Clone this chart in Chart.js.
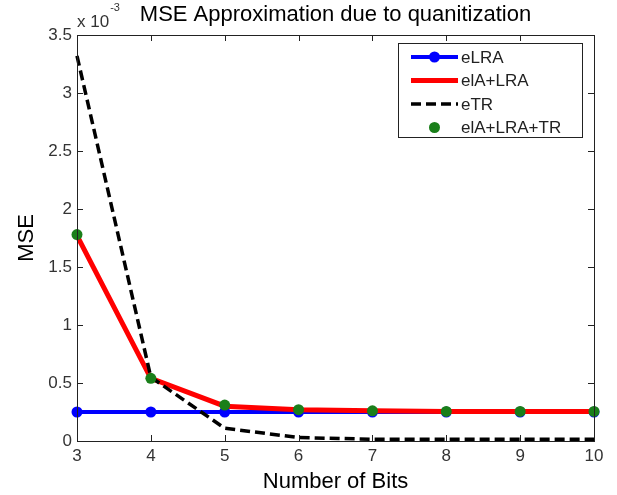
<!DOCTYPE html>
<html>
<head>
<meta charset="utf-8">
<title>MSE Approximation due to quanitization</title>
<script src="https://cdn.jsdelivr.net/npm/chart.js@4.4.1/dist/chart.umd.min.js"></script>
<style>
  html, body { margin: 0; padding: 0; background: #fff; }
  canvas { display: block; }
</style>
</head>
<body>
<canvas id="mseChart" width="617" height="495"></canvas>
<script>
// x: number of bits, y: MSE in units of 1e-3
const bits = [3, 4, 5, 6, 7, 8, 9, 10];
const eLRA = [0.25, 0.25, 0.25, 0.25, 0.25, 0.25, 0.25, 0.25];
const eIALRA = [1.77, 0.54, 0.30, 0.27, 0.26, 0.255, 0.255, 0.255];
const eTR = [3.32, 0.55, 0.11, 0.03, 0.015, 0.015, 0.015, 0.015];
const eIALRATR = [1.78, 0.54, 0.31, 0.27, 0.26, 0.255, 0.255, 0.255];
const xTicks = [3, 4, 5, 6, 7, 8, 9, 10];
const yTicks = [0, 0.5, 1, 1.5, 2, 2.5, 3, 3.5];

const FONT = "'Liberation Sans', Arial, sans-serif";

function pts(arr){ return bits.map((b, i) => ({ x: b, y: arr[i] })); }

// box, inward ticks (matlab style)
const framePlugin = {
  id: "frame",
  afterDatasetsDraw(chart){
    const { ctx, chartArea: a, scales: { x, y } } = chart;
    ctx.save();
    ctx.strokeStyle = "#222";
    ctx.lineWidth = 1;
    ctx.strokeRect(a.left + 0.5, a.top + 0.5, a.right - a.left, a.bottom - a.top);
    ctx.beginPath();
    xTicks.forEach(v => {
      const px = Math.round(x.getPixelForValue(v)) + 0.5;
      ctx.moveTo(px, a.bottom); ctx.lineTo(px, a.bottom - 6);
      ctx.moveTo(px, a.top); ctx.lineTo(px, a.top + 6);
    });
    yTicks.forEach(v => {
      const py = Math.round(y.getPixelForValue(v)) + 0.5;
      ctx.moveTo(a.left, py); ctx.lineTo(a.left + 6, py);
      ctx.moveTo(a.right, py); ctx.lineTo(a.right - 6, py);
    });
    ctx.stroke();
    ctx.restore();
  }
};

// title + exponent label
const textPlugin = {
  id: "texts",
  afterDraw(chart){
    const { ctx, chartArea: a } = chart;
    ctx.save();
    ctx.fillStyle = "#000";
    ctx.textBaseline = "alphabetic";
    ctx.textAlign = "center";
    ctx.font = "22px " + FONT;
    ctx.fillText("MSE Approximation due to quanitization", (a.left + a.right) / 2, 21);

    ctx.fillStyle = "#333";
    ctx.textAlign = "left";
    ctx.font = "17px " + FONT;
    ctx.fillText("x 10", a.left, 27);
    const w = ctx.measureText("x 10").width;
    ctx.font = "11px " + FONT;
    ctx.fillText("-3", a.left + w + 1, 11);
    ctx.restore();
  }
};

// legend box inside the axes
const legendPlugin = {
  id: "boxLegend",
  afterDraw(chart){
    const { ctx, chartArea: a } = chart;
    const bw = 184, bh = 94;
    const bx = a.right - 12 - bw, by = a.top + 8;
    ctx.save();
    ctx.fillStyle = "#fff";
    ctx.fillRect(bx, by, bw, bh);
    ctx.strokeStyle = "#222";
    ctx.lineWidth = 1;
    ctx.strokeRect(bx + 0.5, by + 0.5, bw, bh);

    chart.data.datasets.forEach((ds, i) => {
      const cy = by + 14 + i * 23.5;
      const x0 = bx + 13, x1 = bx + 60;
      if (ds.showLine !== false) {
        ctx.beginPath();
        ctx.strokeStyle = ds.borderColor;
        ctx.lineWidth = ds.borderWidth;
        ctx.setLineDash(ds.borderDash || []);
        ctx.moveTo(x0, cy); ctx.lineTo(x1, cy);
        ctx.stroke();
        ctx.setLineDash([]);
      }
      if (ds.pointRadius > 0) {
        ctx.beginPath();
        ctx.fillStyle = ds.pointBackgroundColor;
        ctx.arc((x0 + x1) / 2, cy, ds.pointRadius, 0, Math.PI * 2);
        ctx.fill();
      }
      ctx.fillStyle = "#222";
      ctx.font = "17px " + FONT;
      ctx.textAlign = "left";
      ctx.textBaseline = "middle";
      ctx.fillText(ds.label, x1 + 3, cy + 1);
    });
    ctx.restore();
  }
};

new Chart(document.getElementById("mseChart"), {
  type: "line",
  data: {
    datasets: [
      {
        label: "eLRA", data: pts(eLRA),
        borderColor: "#0000ff", borderWidth: 4,
        pointRadius: 5.5, pointBackgroundColor: "#0000ff", pointBorderWidth: 0,
        order: 4
      },
      {
        label: "elA+LRA", data: pts(eIALRA),
        borderColor: "#ff0000", borderWidth: 5,
        pointRadius: 0,
        order: 3
      },
      {
        label: "eTR", data: pts(eTR),
        borderColor: "#000000", borderWidth: 3.5, borderDash: [10, 5],
        pointRadius: 0,
        order: 2
      },
      {
        label: "elA+LRA+TR", data: pts(eIALRATR),
        showLine: false, borderColor: "#1a7f1a",
        pointRadius: 5.5, pointBackgroundColor: "#1a7f1a", pointBorderWidth: 0,
        order: 1
      }
    ]
  },
  options: {
    responsive: false,
    animation: false,
    clip: 8,
    layout: { padding: { top: 35, right: 23, left: 0, bottom: 0 } },
    plugins: {
      legend: { display: false },
      tooltip: { enabled: false }
    },
    scales: {
      x: {
        type: "linear", min: 3, max: 10,
        afterFit(s){ s.height = 54; },
        afterBuildTicks(s){ s.ticks = xTicks.map(v => ({ value: v })); },
        grid: { display: false, drawTicks: false },
        border: { display: false },
        ticks: { padding: 5, color: "#333", font: { family: FONT, size: 17 },
                 callback: v => String(v) },
        title: {
          display: true, text: "Number of Bits", color: "#000",
          font: { family: FONT, size: 22 }, padding: { top: 0, bottom: 0 }
        }
      },
      y: {
        type: "linear", min: 0, max: 3.5,
        afterFit(s){ s.width = 77; },
        afterBuildTicks(s){ s.ticks = yTicks.map(v => ({ value: v })); },
        grid: { display: false, drawTicks: false },
        border: { display: false },
        ticks: { padding: 5, color: "#333", font: { family: FONT, size: 17 },
                 callback: v => String(v) },
        title: {
          display: true, text: "MSE", color: "#000",
          font: { family: FONT, size: 22 }, padding: { top: 14, bottom: 0 }
        }
      }
    }
  },
  plugins: [framePlugin, textPlugin, legendPlugin]
});
</script>
</body>
</html>
